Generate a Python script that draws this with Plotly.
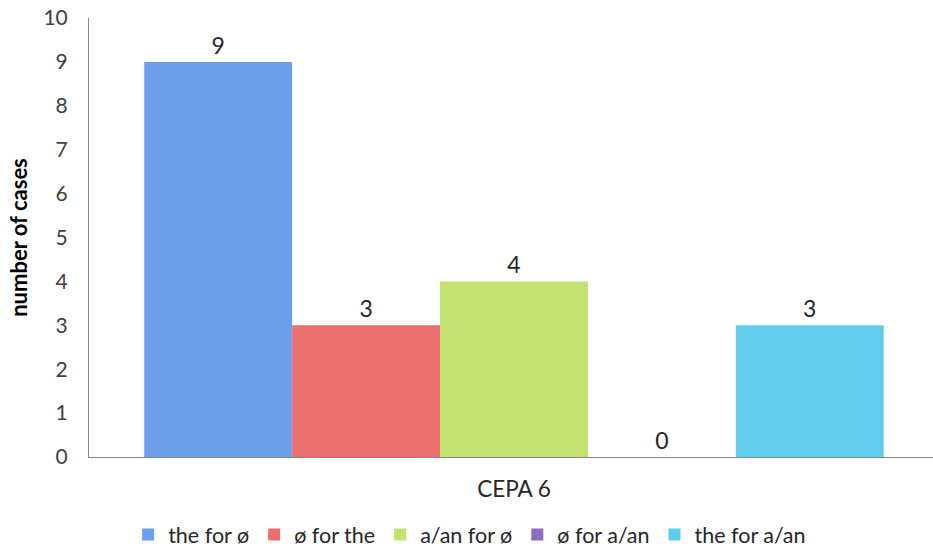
import plotly.graph_objects as go

categories = ["CEPA 6"]
series_names = ["the for ø", "ø for the", "a/an for ø", "ø for a/an", "the for a/an"]
series_values = [9, 3, 4, 0, 3]
series_colors = ["#6C9FE8", "#EA6E6C", "#C2E374", "#8A6CC0", "#62CBE9"]
y_ticks = list(range(0, 11))

fig = go.Figure()
for name, val, col in zip(series_names, series_values, series_colors):
    fig.add_trace(go.Bar(
        x=categories, y=[val], name=name,
        marker=dict(color=col, line=dict(width=0)),
        text=[str(val)], textposition="outside",
        textfont=dict(family="Lato", size=23, color="#262626"),
        cliponaxis=False,
    ))

fig.update_layout(
    width=933, height=547,
    margin=dict(l=89, r=0, t=18, b=0, autoexpand=False),
    paper_bgcolor="white", plot_bgcolor="white",
    barmode="group", bargap=0.13, bargroupgap=0,
    font=dict(family="Lato", size=21, color="#404040"),
    showlegend=True,
    legend=dict(orientation="h", x=0.451, xanchor="center", y=-0.015, yanchor="bottom",
                font=dict(family="Lato", size=21.5, color="#262626"),
                itemwidth=30, tracegroupgap=0),
    xaxis=dict(range=[-0.5, 0.493], showline=True, linecolor="#868686", linewidth=1,
               ticks="", showgrid=False, ticklabelstandoff=12,
               tickfont=dict(size=22.5, color="#262626")),
    yaxis=dict(domain=[90 / 529, 1], range=[0, 10], tickvals=y_ticks, showline=True,
               linecolor="#868686", linewidth=1, showgrid=False, ticks="",
               ticklabelstandoff=16, zeroline=False,
               tickfont=dict(size=21, color="#404040"),
               title=dict(text="<b>number of cases</b>", standoff=9,
                          font=dict(size=22, color="#000000"))),
)

fig.write_html("out.html")
